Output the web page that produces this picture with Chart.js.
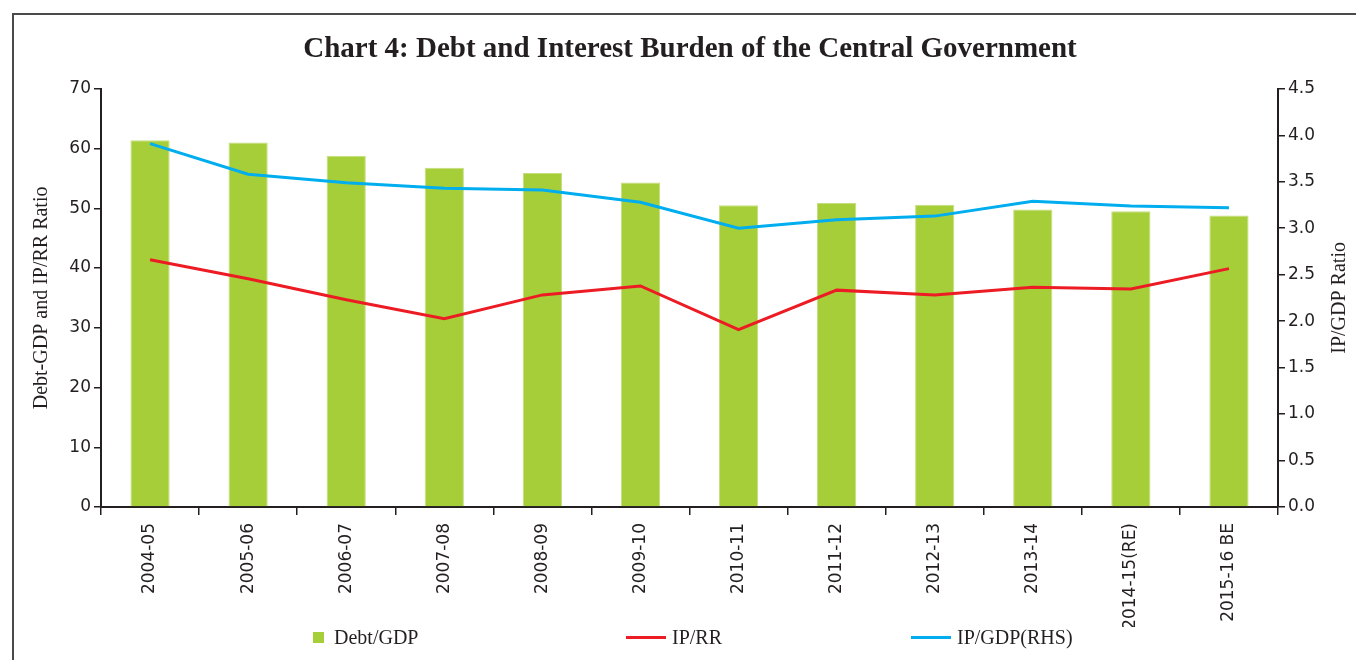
<!DOCTYPE html>
<html>
<head>
<meta charset="utf-8">
<script src="https://cdn.jsdelivr.net/npm/chart.js@4.4.1/dist/chart.umd.min.js"></script>
<style>
  html, body { margin: 0; padding: 0; background: #fff; }
  #wrap { position: relative; width: 1356px; height: 660px; overflow: hidden; }
  #frame { position: absolute; left: 12px; top: 13px; width: 1400px; height: 700px;
           border-top: 2px solid #4a4a4a; border-left: 2px solid #4a4a4a; box-sizing: border-box; }
  canvas { position: absolute; left: 0; top: 0; }
  .lg { position: absolute; top: 626px; font-family: "Liberation Serif", serif; font-size: 20px; color: #231f20;
        display: flex; align-items: center; white-space: nowrap; }
  .sw-box { width: 11px; height: 11px; background: #a6ce39; margin-right: 10px; }
  .sw-line { width: 40px; height: 3px; margin-right: 6px; }
</style>
</head>
<body>
<div id="wrap">
  <div id="frame"></div>
  <canvas id="c" width="1356" height="660"></canvas>
  <div class="lg" style="left:313px"><span class="sw-box"></span>Debt/GDP</div>
  <div class="lg" style="left:626px"><span class="sw-line" style="background:#ed1c24"></span>IP/RR</div>
  <div class="lg" style="left:911px"><span class="sw-line" style="background:#00aeef"></span>IP/GDP(RHS)</div>
</div>
<script>
const categories = ["2004-05","2005-06","2006-07","2007-08","2008-09","2009-10","2010-11","2011-12","2012-13","2013-14","2014-15(RE)","2015-16 BE"];
const debtGDP = [61.4, 61.0, 58.8, 56.8, 55.9, 54.3, 50.5, 50.9, 50.6, 49.8, 49.5, 48.8];
const ipRR    = [41.4, 38.2, 34.7, 31.5, 35.5, 37.0, 29.7, 36.3, 35.5, 36.8, 36.5, 39.9];
const ipGDP   = [3.91, 3.58, 3.49, 3.43, 3.41, 3.28, 3.00, 3.09, 3.13, 3.29, 3.24, 3.22];
const leftTicks = [0,10,20,30,40,50,60,70];
const rightTicks = [0,0.5,1,1.5,2,2.5,3,3.5,4,4.5];

const txt = '#231f20';
const tickFont = { family: 'DejaVu Sans', size: 17 };

const rightTitle = {
  id: 'rightTitle',
  afterDraw(chart) {
    const ctx = chart.ctx, a = chart.chartArea;
    ctx.save();
    ctx.font = '20px "Liberation Serif"';
    ctx.fillStyle = txt;
    ctx.textAlign = 'center';
    ctx.textBaseline = 'middle';
    ctx.translate(1340, (a.top + a.bottom) / 2);
    ctx.rotate(-Math.PI / 2);
    ctx.fillText('IP/GDP Ratio', 0, 0);
    ctx.restore();
  }
};

new Chart(document.getElementById('c'), {
  data: {
    labels: categories,
    datasets: [
      { type: 'line', label: 'IP/RR', data: ipRR, yAxisID: 'y', borderColor: '#ed1c24', borderWidth: 3,
        pointRadius: 0, tension: 0, order: 2 },
      { type: 'line', label: 'IP/GDP(RHS)', data: ipGDP, yAxisID: 'y1', borderColor: '#00aeef', borderWidth: 3,
        pointRadius: 0, tension: 0, order: 1 },
      { type: 'bar', label: 'Debt/GDP', data: debtGDP, yAxisID: 'y', backgroundColor: '#a6ce39',
        borderColor: '#c4de7e', borderWidth: 1, barPercentage: 0.4, categoryPercentage: 1.0, order: 3 }
    ]
  },
  options: {
    responsive: false,
    animation: false,
    layout: { padding: { top: 0, left: 24, right: 0, bottom: 33 } },
    plugins: {
      legend: { display: false },
      tooltip: { enabled: false },
      title: { display: true, text: 'Chart 4: Debt and Interest Burden of the Central Government',
               color: txt, font: { family: 'Liberation Serif', size: 29, weight: 'bold' },
               padding: { top: 32, bottom: 22 } }
    },
    scales: {
      x: {
        grid: { display: true, drawOnChartArea: false, drawTicks: true, tickLength: 8, color: '#231f20', lineWidth: 1.5, offset: true },
        border: { display: true, color: '#231f20', width: 2 },
        ticks: { color: txt, font: tickFont, minRotation: 90, maxRotation: 90, autoSkip: false, padding: 8 },
        afterFit(s) { s.height = 120; }
      },
      y: {
        position: 'left', min: 0, max: 70,
        afterBuildTicks(s) { s.ticks = leftTicks.map(v => ({ value: v })); },
        grid: { display: true, drawOnChartArea: false, drawTicks: true, tickLength: 7, color: '#231f20', lineWidth: 1.5 },
        border: { display: true, color: '#231f20', width: 2 },
        ticks: { color: txt, font: tickFont, padding: 3 },
        title: { display: true, text: 'Debt-GDP and IP/RR Ratio', color: txt,
                 font: { family: 'Liberation Serif', size: 20 }, padding: { top: 6, bottom: 0 } },
        afterFit(s) { s.width = 77; }
      },
      y1: {
        position: 'right', min: 0, max: 4.5,
        afterBuildTicks(s) { s.ticks = rightTicks.map(v => ({ value: v })); },
        grid: { display: true, drawOnChartArea: false, drawTicks: true, tickLength: 7, color: '#231f20', lineWidth: 1.5 },
        border: { display: true, color: '#231f20', width: 2 },
        ticks: { color: txt, font: tickFont, padding: 3, callback: v => Number(v).toFixed(1) },
        afterFit(s) { s.width = 78; }
      }
    }
  },
  plugins: [rightTitle]
});
</script>
</body>
</html>
